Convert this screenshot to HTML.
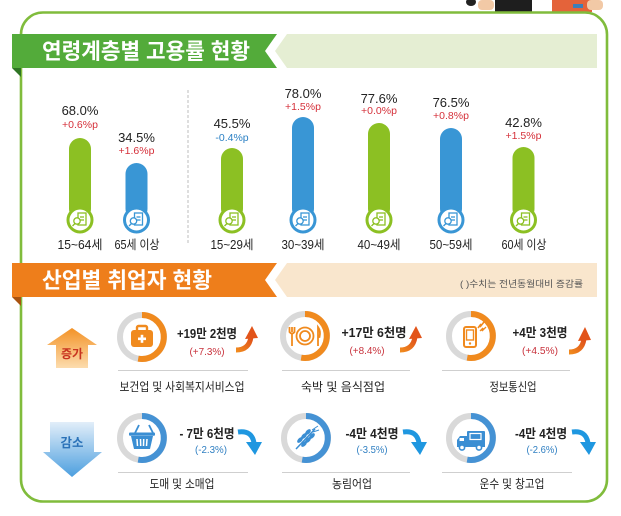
<!DOCTYPE html>
<html><head><meta charset="utf-8"><style>
html,body{margin:0;padding:0;background:#fff;}
svg{display:block;}
text{font-family:"Liberation Sans","Noto Sans CJK KR",sans-serif;}
</style></head><body>
<svg width="621" height="516" viewBox="0 0 621 516" xmlns="http://www.w3.org/2000/svg">
<defs>
<linearGradient id="gUp" x1="0" y1="0" x2="0" y2="1"><stop offset="0" stop-color="#f39226"/><stop offset="1" stop-color="#fcdcae"/></linearGradient>
<linearGradient id="gDn" x1="0" y1="0" x2="0" y2="1"><stop offset="0" stop-color="#e2eef9"/><stop offset="1" stop-color="#4c9fdf"/></linearGradient>
<linearGradient id="gOA" x1="0" y1="1" x2="1" y2="0"><stop offset="0" stop-color="#f08a1e"/><stop offset="1" stop-color="#e0501a"/></linearGradient>
</defs>
<rect width="621" height="516" fill="#fff"/>
<!-- top illustration -->
<ellipse cx="471" cy="2" rx="5" ry="4" fill="#222"/>
<rect x="478" y="0" width="16" height="10" rx="4" fill="#f2c9a6"/>
<rect x="495" y="0" width="37" height="12" fill="#1e1e1e"/>
<rect x="552" y="0" width="40" height="12" fill="#e4633a"/>
<rect x="573" y="4" width="10" height="4" fill="#3d7fb8"/>
<rect x="587" y="0" width="16" height="10" rx="4" fill="#f2c9a6"/>
<!-- frame -->
<rect x="21" y="12.5" width="586" height="489" rx="22" fill="#fff" stroke="#80bc3c" stroke-width="2.6"/>
<!-- section 1 header -->
<polygon points="287,34 597,34 597,68 287,68 275,51" fill="#e5eed3"/>
<polygon points="12,34 277,34 265,51 277,68 12,68" fill="#53ab3a"/>
<polygon points="12,68 21,68 21,77" fill="#2f7524"/>
<text x="42" y="59" font-size="22" font-weight="bold" fill="#fff" textLength="208" lengthAdjust="spacingAndGlyphs">연령계층별 고용률 현황</text>
<!-- separator -->
<line x1="188" y1="90" x2="188" y2="243" stroke="#bdbdbd" stroke-width="1" stroke-dasharray="3,2"/>
<!-- bars -->
<g font-size="13" text-anchor="middle">
<!-- bar 1 -->
<rect x="69" y="138" width="22" height="82" rx="11" fill="#8cc023"/>
<text x="80" y="115" fill="#222">68.0%</text>
<text x="80" y="128" font-size="10.5" fill="#d5303a">+0.6%p</text>
<!-- bar 2 -->
<rect x="125.5" y="163" width="22" height="57" rx="11" fill="#3996d5"/>
<text x="136.5" y="142" fill="#222">34.5%</text>
<text x="136.5" y="154" font-size="10.5" fill="#d5303a">+1.6%p</text>
<!-- bar 3 -->
<rect x="221" y="148" width="22" height="72" rx="11" fill="#8cc023"/>
<text x="232" y="128" fill="#222">45.5%</text>
<text x="232" y="141" font-size="10.5" fill="#2b80c4">-0.4%p</text>
<!-- bar 4 -->
<rect x="292" y="117" width="22" height="103" rx="11" fill="#3996d5"/>
<text x="303" y="98" fill="#222">78.0%</text>
<text x="303" y="110" font-size="10.5" fill="#d5303a">+1.5%p</text>
<!-- bar 5 -->
<rect x="368" y="123" width="22" height="97" rx="11" fill="#8cc023"/>
<text x="379" y="103" fill="#222">77.6%</text>
<text x="379" y="114" font-size="10.5" fill="#d5303a">+0.0%p</text>
<!-- bar 6 -->
<rect x="440" y="128" width="22" height="92" rx="11" fill="#3996d5"/>
<text x="451" y="107" fill="#222">76.5%</text>
<text x="451" y="119" font-size="10.5" fill="#d5303a">+0.8%p</text>
<!-- bar 7 -->
<rect x="512.5" y="147" width="22" height="73" rx="11" fill="#8cc023"/>
<text x="523.5" y="127" fill="#222">42.8%</text>
<text x="523.5" y="139" font-size="10.5" fill="#d5303a">+1.5%p</text>
<!-- labels -->
<g font-size="12.5" fill="#222">
<text x="80" y="249" textLength="45" lengthAdjust="spacingAndGlyphs">15~64세</text>
<text x="137" y="249" textLength="45" lengthAdjust="spacingAndGlyphs">65세 이상</text>
<text x="232" y="249" textLength="43" lengthAdjust="spacingAndGlyphs">15~29세</text>
<text x="303" y="249" textLength="43" lengthAdjust="spacingAndGlyphs">30~39세</text>
<text x="379" y="249" textLength="43" lengthAdjust="spacingAndGlyphs">40~49세</text>
<text x="451" y="249" textLength="43" lengthAdjust="spacingAndGlyphs">50~59세</text>
<text x="524" y="249" textLength="45" lengthAdjust="spacingAndGlyphs">60세 이상</text>
</g>
</g>
<!-- bar icons -->
<g id="ic1" fill="none" stroke-width="1.3">
<g stroke="#8cc023"><circle cx="80" cy="220" r="12" fill="#fff" stroke-width="3"/><rect x="78" y="213" width="8" height="12"/><line x1="80" y1="217" x2="84" y2="217"/><line x1="80" y1="220" x2="84" y2="220"/><circle cx="77" cy="221" r="3.2" fill="#fff"/><line x1="75" y1="223.5" x2="72.5" y2="226"/></g>
<g stroke="#3996d5"><circle cx="136.5" cy="220" r="12" fill="#fff" stroke-width="3"/><rect x="134.5" y="213" width="8" height="12"/><line x1="136.5" y1="217" x2="140.5" y2="217"/><line x1="136.5" y1="220" x2="140.5" y2="220"/><circle cx="133.5" cy="221" r="3.2" fill="#fff"/><line x1="131.5" y1="223.5" x2="129" y2="226"/></g>
<g stroke="#8cc023"><circle cx="232" cy="220" r="12" fill="#fff" stroke-width="3"/><rect x="230" y="213" width="8" height="12"/><line x1="232" y1="217" x2="236" y2="217"/><line x1="232" y1="220" x2="236" y2="220"/><circle cx="229" cy="221" r="3.2" fill="#fff"/><line x1="227" y1="223.5" x2="224.5" y2="226"/></g>
<g stroke="#3996d5"><circle cx="303" cy="220" r="12" fill="#fff" stroke-width="3"/><rect x="301" y="213" width="8" height="12"/><line x1="303" y1="217" x2="307" y2="217"/><line x1="303" y1="220" x2="307" y2="220"/><circle cx="300" cy="221" r="3.2" fill="#fff"/><line x1="298" y1="223.5" x2="295.5" y2="226"/></g>
<g stroke="#8cc023"><circle cx="379" cy="220" r="12" fill="#fff" stroke-width="3"/><rect x="377" y="213" width="8" height="12"/><line x1="379" y1="217" x2="383" y2="217"/><line x1="379" y1="220" x2="383" y2="220"/><circle cx="376" cy="221" r="3.2" fill="#fff"/><line x1="374" y1="223.5" x2="371.5" y2="226"/></g>
<g stroke="#3996d5"><circle cx="451" cy="220" r="12" fill="#fff" stroke-width="3"/><rect x="449" y="213" width="8" height="12"/><line x1="451" y1="217" x2="455" y2="217"/><line x1="451" y1="220" x2="455" y2="220"/><circle cx="448" cy="221" r="3.2" fill="#fff"/><line x1="446" y1="223.5" x2="443.5" y2="226"/></g>
<g stroke="#8cc023"><circle cx="523.5" cy="220" r="12" fill="#fff" stroke-width="3"/><rect x="521.5" y="213" width="8" height="12"/><line x1="523.5" y1="217" x2="527.5" y2="217"/><line x1="523.5" y1="220" x2="527.5" y2="220"/><circle cx="520.5" cy="221" r="3.2" fill="#fff"/><line x1="518.5" y1="223.5" x2="516" y2="226"/></g>
</g>
<!-- section 2 header -->
<polygon points="287,263 597,263 597,297 287,297 275,280" fill="#f9e6cd"/>
<polygon points="12,263 277,263 265,280 277,297 12,297" fill="#ee7e1b"/>
<polygon points="12,297 21,297 21,306" fill="#a9520f"/>
<text x="42" y="288" font-size="22" font-weight="bold" fill="#fff" textLength="170" lengthAdjust="spacingAndGlyphs">산업별 취업자 현황</text>
<text x="583" y="287" font-size="9" fill="#555" text-anchor="end" textLength="123" lengthAdjust="spacingAndGlyphs">( )수치는 전년동월대비 증감률</text>
<!-- up / down arrows -->
<polygon points="72,328 97,345 88,345 88,368 56,368 56,345 47,345" fill="url(#gUp)"/>
<text x="72" y="358" font-size="12" font-weight="bold" fill="#c8331f" text-anchor="middle">증가</text>
<polygon points="50,422 94,422 94,452 102,452 72,477 43,452 50,452" fill="url(#gDn)"/>
<text x="72" y="447" font-size="12.5" font-weight="bold" fill="#2b72b8" text-anchor="middle">감소</text>
<!-- rings -->
<g fill="none" stroke-width="6">
<circle cx="142" cy="337" r="22" stroke="#d9d9d9"/><path d="M142,315 A22,22 0 1 1 138.2,358.7" stroke="#f08a1e"/>
<circle cx="305" cy="336" r="22" stroke="#d9d9d9"/><path d="M305,314 A22,22 0 1 1 301.2,357.7" stroke="#f08a1e"/>
<circle cx="471" cy="336" r="22" stroke="#d9d9d9"/><path d="M471,314 A22,22 0 1 1 467.2,357.7" stroke="#f08a1e"/>
<circle cx="142" cy="438" r="22" stroke="#d9d9d9"/><path d="M142,416 A22,22 0 1 1 138.2,459.7" stroke="#4592d4"/>
<circle cx="306" cy="438" r="22" stroke="#d9d9d9"/><path d="M306,416 A22,22 0 1 1 302.2,459.7" stroke="#4592d4"/>
<circle cx="471" cy="438" r="22" stroke="#d9d9d9"/><path d="M471,416 A22,22 0 1 1 467.2,459.7" stroke="#4592d4"/>
</g>
<!-- icons -->
<!-- medical kit -->
<rect x="137" y="326" width="10" height="6" rx="1.5" fill="none" stroke="#f08a1e" stroke-width="2.4"/>
<rect x="131" y="330" width="22" height="17" rx="3" fill="#f08a1e"/>
<rect x="138" y="337.5" width="8" height="2.6" fill="#fff"/><rect x="140.7" y="334.8" width="2.6" height="8" fill="#fff"/>
<!-- cutlery plate -->
<g fill="none" stroke="#f08a1e" stroke-width="1.8">
<circle cx="305" cy="336" r="8.5"/><circle cx="305" cy="336" r="5"/>
<line x1="292" y1="333" x2="292" y2="346"/><path d="M289.5,327 L289.5,332 Q292,335 294.5,332 L294.5,327"/><line x1="292" y1="327" x2="292" y2="332"/>
<path d="M318,346 L318,327 Q321,331 319.5,337 L318,337"/>
</g>
<!-- phone -->
<g fill="none" stroke="#f08a1e">
<rect x="464" y="327" width="12" height="20" rx="2" stroke-width="2"/>
<rect x="466.5" y="330" width="7" height="10" stroke-width="1.4"/>
<path d="M478,328 L481,324 L480,327 L484,322" stroke-width="1.6"/>
<path d="M480,331 L483,328 L482,331 L486,327" stroke-width="1.3"/>
</g>
<circle cx="470" cy="343.5" r="1.2" fill="#f08a1e"/>
<!-- basket -->
<g stroke="#3a8ed3" stroke-width="1.8" fill="none"><path d="M135,433 L139,425 M149,425 L153,433"/></g>
<rect x="129" y="432.5" width="26" height="3.2" rx="1" fill="#3a8ed3"/>
<polygon points="131,436 153,436 150,449 134,449" fill="#3a8ed3"/>
<g stroke="#fff" stroke-width="1.5"><line x1="137" y1="439" x2="137.5" y2="446"/><line x1="140.5" y1="439" x2="140.7" y2="446"/><line x1="143.7" y1="439" x2="143.5" y2="446"/><line x1="147" y1="439" x2="146.5" y2="446"/></g>
<!-- wheat -->
<g fill="#3a8ed3">
<line x1="296" y1="449" x2="315" y2="429" stroke="#3a8ed3" stroke-width="1.5"/>
<ellipse cx="300" cy="440" rx="2" ry="3.5" transform="rotate(45 300 440)"/>
<ellipse cx="304" cy="436" rx="2" ry="3.5" transform="rotate(45 304 436)"/>
<ellipse cx="308" cy="432" rx="2" ry="3.5" transform="rotate(45 308 432)"/>
<ellipse cx="304" cy="444" rx="2" ry="3.5" transform="rotate(45 304 444)"/>
<ellipse cx="308" cy="440" rx="2" ry="3.5" transform="rotate(45 308 440)"/>
<ellipse cx="312" cy="436" rx="2" ry="3.5" transform="rotate(45 312 436)"/>
<path d="M312,430 L318,426 M313,432 L319,430" stroke="#3a8ed3" stroke-width="1"/>
</g>
<!-- truck -->
<rect x="467" y="431" width="18" height="13" rx="1" fill="#3a8ed3"/>
<rect x="470" y="433.5" width="11" height="6" fill="none" stroke="#fff" stroke-width="1.2"/>
<path d="M457,446 L457,440 L460,436 L467,436 L467,446 Z" fill="#3a8ed3"/>
<rect x="459.5" y="438" width="4.5" height="3" fill="#fff"/>
<rect x="457" y="443" width="28" height="4" fill="#3a8ed3"/>
<circle cx="462" cy="447.5" r="2.6" fill="#fff" stroke="#3a8ed3" stroke-width="1.6"/>
<circle cx="479" cy="447.5" r="2.6" fill="#fff" stroke="#3a8ed3" stroke-width="1.6"/>
<!-- underlines -->
<g stroke="#cfcfcf" stroke-width="1">
<line x1="118" y1="370.5" x2="248" y2="370.5"/><line x1="282" y1="370.5" x2="410" y2="370.5"/><line x1="442" y1="370.5" x2="570" y2="370.5"/>
<line x1="118" y1="472.5" x2="248" y2="472.5"/><line x1="282" y1="472.5" x2="410" y2="472.5"/><line x1="442" y1="472.5" x2="572" y2="472.5"/>
</g>
<!-- amounts -->
<g font-size="12.5" font-weight="bold" fill="#222" text-anchor="middle">
<text x="207" y="338" textLength="60" lengthAdjust="spacingAndGlyphs">+19만 2천명</text>
<text x="374" y="337" textLength="65" lengthAdjust="spacingAndGlyphs">+17만 6천명</text>
<text x="540" y="337" textLength="55" lengthAdjust="spacingAndGlyphs">+4만 3천명</text>
<text x="207" y="438" textLength="55" lengthAdjust="spacingAndGlyphs">- 7만 6천명</text>
<text x="372" y="438" textLength="53" lengthAdjust="spacingAndGlyphs">-4만 4천명</text>
<text x="541" y="438" textLength="52" lengthAdjust="spacingAndGlyphs">-4만 4천명</text>
</g>
<g font-size="10" text-anchor="middle">
<text x="207" y="355" fill="#c8323c" textLength="35" lengthAdjust="spacingAndGlyphs">(+7.3%)</text>
<text x="367" y="354" fill="#c8323c" textLength="35" lengthAdjust="spacingAndGlyphs">(+8.4%)</text>
<text x="540" y="354" fill="#c8323c" textLength="36" lengthAdjust="spacingAndGlyphs">(+4.5%)</text>
<text x="211" y="453" fill="#2f7fc2" textLength="32" lengthAdjust="spacingAndGlyphs">(-2.3%)</text>
<text x="372" y="453" fill="#2f7fc2" textLength="31" lengthAdjust="spacingAndGlyphs">(-3.5%)</text>
<text x="542" y="453" fill="#2f7fc2" textLength="31" lengthAdjust="spacingAndGlyphs">(-2.6%)</text>
</g>
<!-- curved arrows up (orange) -->
<g id="arrowsUp">
<path d="M236,350 Q249,350 251,337" fill="none" stroke="url(#gOA)" stroke-width="5"/>
<polygon points="252,326 245,339 258,338" fill="#e2541a"/>
<path d="M400,350 Q413,350 415,337" fill="none" stroke="url(#gOA)" stroke-width="5"/>
<polygon points="416,326 409,339 422,338" fill="#e2541a"/>
<path d="M569,352 Q582,352 584,339" fill="none" stroke="url(#gOA)" stroke-width="5"/>
<polygon points="585,327 578,341 591,340" fill="#e2541a"/>
</g>
<!-- curved arrows down (blue) -->
<g fill="#1f97e0">
<path d="M238,432 Q252,430 254,443" fill="none" stroke="#1f97e0" stroke-width="5"/>
<polygon points="246,442 262,442 255,455"/>
<path d="M403,432 Q417,430 419,443" fill="none" stroke="#1f97e0" stroke-width="5"/>
<polygon points="411,442 427,442 420,455"/>
<path d="M572,432 Q586,430 588,443" fill="none" stroke="#1f97e0" stroke-width="5"/>
<polygon points="580,442 596,442 589,455"/>
</g>
<!-- industry labels -->
<g font-size="12" fill="#222" text-anchor="middle">
<text x="182" y="391" textLength="125" lengthAdjust="spacingAndGlyphs">보건업 및 사회복지서비스업</text>
<text x="343" y="391" textLength="84" lengthAdjust="spacingAndGlyphs">숙박 및 음식점업</text>
<text x="513" y="391" textLength="47" lengthAdjust="spacingAndGlyphs">정보통신업</text>
<text x="182" y="488" textLength="65" lengthAdjust="spacingAndGlyphs">도매 및 소매업</text>
<text x="352" y="488" textLength="40" lengthAdjust="spacingAndGlyphs">농림어업</text>
<text x="512" y="488" textLength="65" lengthAdjust="spacingAndGlyphs">운수 및 창고업</text>
</g>
</svg>
</body></html>
